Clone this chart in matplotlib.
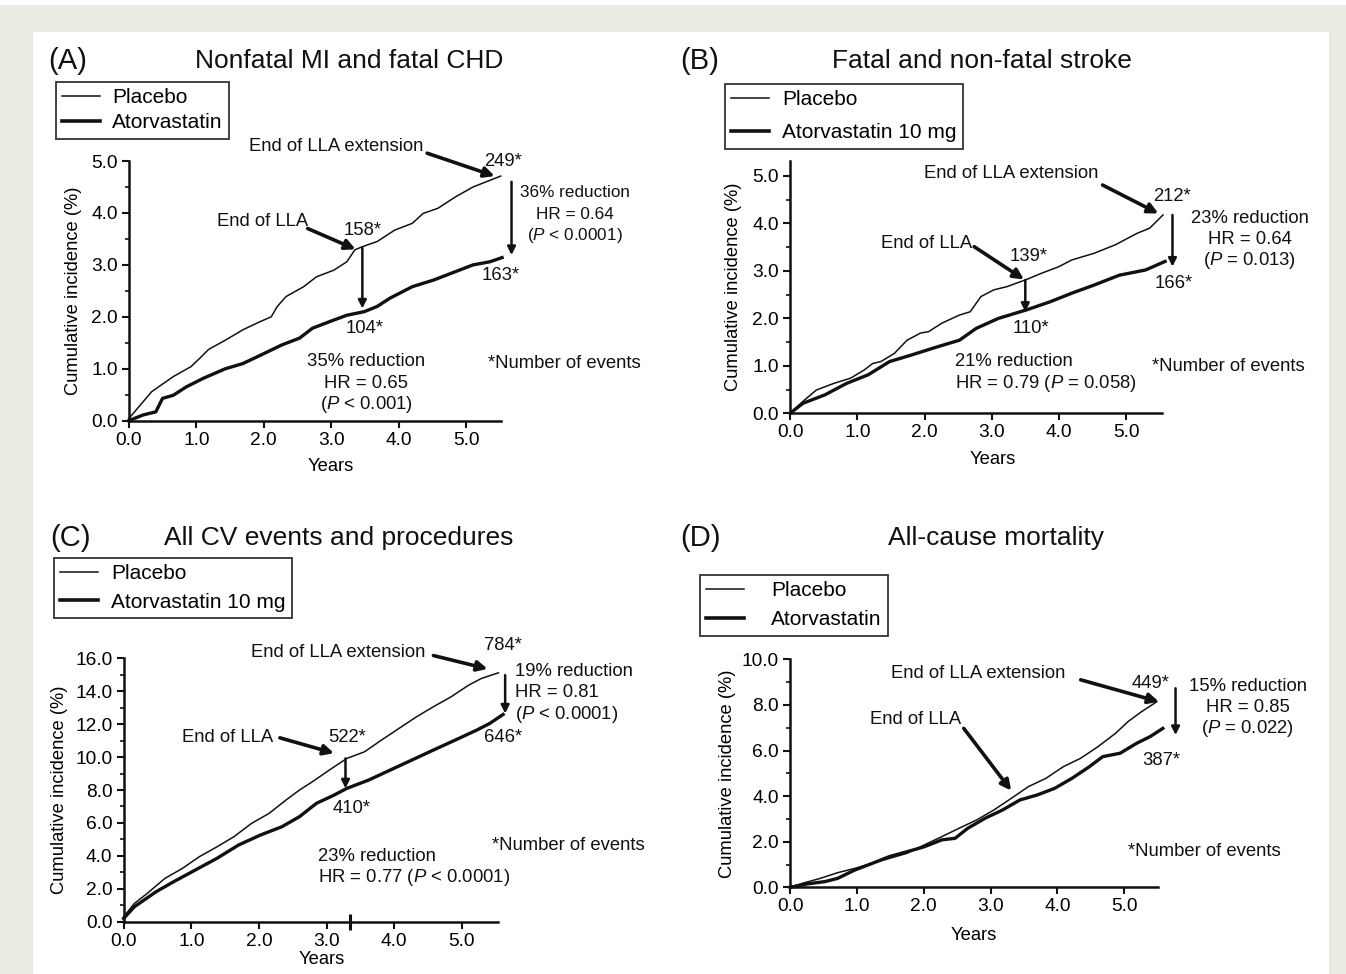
import matplotlib
matplotlib.use('Agg')
import matplotlib.pyplot as plt
from matplotlib.patches import Rectangle
from matplotlib.lines import Line2D
from matplotlib.ticker import MultipleLocator

plt.rcParams['font.family'] = ['Liberation Sans', 'DejaVu Sans']
plt.rcParams['mathtext.fontset'] = 'custom'
plt.rcParams['mathtext.rm'] = 'Liberation Sans'
plt.rcParams['mathtext.it'] = 'Liberation Sans:italic'

# ---------------- data (years, cumulative incidence %) ----------------
a_plac_t = [0.0, 0.34, 0.66, 0.92, 1.05, 1.18, 1.43, 1.69, 1.95, 2.11, 2.2, 2.33, 2.59, 2.78, 3.04, 3.23,
            3.35, 3.46, 3.68, 3.94, 4.2, 4.36, 4.58, 4.84, 5.1, 5.51]
a_plac_y = [0.04, 0.56, 0.85, 1.04, 1.2, 1.37, 1.55, 1.75, 1.91, 2.0, 2.2, 2.39, 2.58, 2.77, 2.9, 3.06,
            3.29, 3.35, 3.45, 3.67, 3.8, 3.99, 4.09, 4.31, 4.5, 4.71]
a_ator_t = [0.0, 0.21, 0.4, 0.5, 0.66, 0.85, 1.11, 1.43, 1.69, 1.95, 2.27, 2.53, 2.72, 2.98, 3.23, 3.49,
            3.68, 3.87, 4.2, 4.52, 4.84, 5.1, 5.35, 5.53]
a_ator_y = [0.0, 0.11, 0.17, 0.43, 0.49, 0.65, 0.82, 1.0, 1.1, 1.26, 1.46, 1.59, 1.78, 1.91, 2.03, 2.1,
            2.2, 2.36, 2.58, 2.71, 2.87, 3.0, 3.06, 3.14]

b_plac_t = [0.0, 0.19, 0.39, 0.65, 0.9, 1.1, 1.23, 1.35, 1.55, 1.74, 1.94, 2.06, 2.26, 2.52, 2.68, 2.84,
            3.03, 3.23, 3.52, 3.74, 4.0, 4.19, 4.52, 4.84, 5.16, 5.35, 5.55]
b_plac_y = [0.0, 0.25, 0.49, 0.63, 0.74, 0.91, 1.05, 1.09, 1.26, 1.54, 1.69, 1.72, 1.9, 2.07, 2.14, 2.46,
            2.6, 2.67, 2.82, 2.95, 3.09, 3.23, 3.37, 3.55, 3.79, 3.9, 4.18]
b_ator_t = [0.0, 0.19, 0.52, 0.84, 1.16, 1.48, 1.81, 2.19, 2.52, 2.77, 3.1, 3.52, 3.87, 4.19, 4.52, 4.9,
            5.29, 5.58]
b_ator_y = [0.0, 0.21, 0.39, 0.63, 0.81, 1.09, 1.23, 1.4, 1.54, 1.79, 2.0, 2.18, 2.35, 2.53, 2.7, 2.91,
            3.02, 3.2]

c_plac_t = [0.0, 0.16, 0.35, 0.61, 0.87, 1.12, 1.38, 1.63, 1.89, 2.15, 2.4, 2.6, 2.79, 3.04, 3.3, 3.56,
            3.81, 4.07, 4.33, 4.58, 4.84, 5.1, 5.29, 5.54]
c_plac_y = [0.3, 1.11, 1.72, 2.63, 3.24, 3.95, 4.55, 5.16, 5.97, 6.58, 7.39, 8.0, 8.5, 9.21, 9.92, 10.32,
            11.03, 11.74, 12.45, 13.06, 13.66, 14.37, 14.78, 15.12]
c_ator_t = [0.0, 0.16, 0.48, 0.74, 1.06, 1.38, 1.7, 2.02, 2.34, 2.6, 2.85, 3.11, 3.3, 3.62, 3.94, 4.26,
            4.58, 4.9, 5.22, 5.41, 5.61]
c_ator_y = [0.2, 0.91, 1.82, 2.43, 3.14, 3.85, 4.66, 5.26, 5.77, 6.38, 7.19, 7.69, 8.1, 8.6, 9.21, 9.82,
            10.43, 11.03, 11.64, 12.04, 12.59]
c_marker_year = [3.35]

d_plac_t = [0.0, 0.19, 0.45, 0.71, 0.97, 1.23, 1.49, 1.75, 2.01, 2.27, 2.53, 2.79, 3.05, 3.31, 3.57, 3.83,
            4.09, 4.35, 4.61, 4.87, 5.06, 5.26, 5.49]
d_plac_y = [0.0, 0.18, 0.39, 0.64, 0.83, 1.05, 1.27, 1.49, 1.86, 2.22, 2.59, 2.95, 3.39, 3.9, 4.42, 4.78,
            5.29, 5.66, 6.17, 6.75, 7.27, 7.7, 8.14]
d_ator_t = [0.0, 0.26, 0.52, 0.71, 0.97, 1.23, 1.49, 1.75, 2.01, 2.27, 2.47, 2.66, 2.92, 3.18, 3.44, 3.7,
            3.96, 4.22, 4.48, 4.68, 4.94, 5.19, 5.39, 5.58]
d_ator_y = [0.0, 0.15, 0.25, 0.39, 0.76, 1.05, 1.35, 1.56, 1.78, 2.08, 2.15, 2.59, 3.03, 3.39, 3.83, 4.05,
            4.34, 4.78, 5.29, 5.73, 5.88, 6.32, 6.61, 6.97]

x_ticks = [0, 1, 2, 3, 4, 5]
x_tick_labels = ['0.0', '1.0', '2.0', '3.0', '4.0', '5.0']
ab_y_ticks = [0, 1, 2, 3, 4, 5]
ab_y_tick_labels = ['0.0', '1.0', '2.0', '3.0', '4.0', '5.0']
c_y_ticks = [0, 2, 4, 6, 8, 10, 12, 14, 16]
c_y_tick_labels = ['0.0', '2.0', '4.0', '6.0', '8.0', '10.0', '12.0', '14.0', '16.0']
d_y_ticks = [0, 2, 4, 6, 8, 10]
d_y_tick_labels = ['0.0', '2.0', '4.0', '6.0', '8.0', '10.0']

# ---------------- figure ----------------
W, H = 1346, 974
fig = plt.figure(figsize=(W / 100, H / 100), dpi=100)
fig.patch.set_facecolor('#ecebe3')
fig.add_artist(Rectangle((33 / W, 0), (1329 - 33) / W, (H - 32) / H, transform=fig.transFigure,
                         facecolor='white', edgecolor='none', zorder=-10))
fig.add_artist(Rectangle((0, (H - 5) / H), 1, 5 / H, transform=fig.transFigure,
                         facecolor='white', edgecolor='none', zorder=-10))

INK = '#111111'


def make_axes(x0, y0, pxx, pxy, xmax, ymax, yticks, ylabels, yminor):
    ax = fig.add_axes([x0 / W, (H - y0) / H, xmax * pxx / W, ymax * pxy / H])
    ax.set_facecolor('none')
    ax.set_xlim(0, xmax)
    ax.set_ylim(0, ymax)
    for s in ('top', 'right'):
        ax.spines[s].set_visible(False)
    for s in ('left', 'bottom'):
        ax.spines[s].set_linewidth(1.8)
        ax.spines[s].set_color(INK)
    ax.set_xticks(x_ticks)
    ax.set_xticklabels(x_tick_labels)
    ax.set_yticks(yticks)
    ax.set_yticklabels(ylabels)
    ax.yaxis.set_minor_locator(MultipleLocator(yminor))
    ax.tick_params(axis='both', which='major', length=5, width=1.5, labelsize=13.8, pad=3, color=INK)
    ax.tick_params(axis='y', which='minor', length=3, width=1.2, color=INK)
    return ax


def curves(ax, pt, py, at, ay):
    ax.plot(pt, py, color=INK, lw=1.1, clip_on=False, zorder=3)
    ax.plot(at, ay, color=INK, lw=2.4, clip_on=False, zorder=3)


def labels(ax, ylab_x, xlab_y, x0, y0, pxx, pxy, xmax, ymax, xlab_x):
    wpx = xmax * pxx
    hpx = ymax * pxy
    ax.set_ylabel('Cumulative incidence (%)', fontsize=13.2, va='center')
    ax.yaxis.set_label_coords((ylab_x - x0) / wpx, 0.5)
    ax.set_xlabel('Years', fontsize=13.2, va='center')
    ax.xaxis.set_label_coords((xlab_x - x0) / wpx, (y0 - xlab_y) / hpx)


def txt(ax, x, y, s, ha='center', fs=13.3):
    ax.text(x, y, s, ha=ha, va='center', fontsize=fs, clip_on=False, color=INK)


def arrow(ax, x1, y1, x2, y2, lw=2.6, ms=15):
    ax.annotate('', xy=(x2, y2), xytext=(x1, y1), annotation_clip=False,
                arrowprops=dict(arrowstyle='-|>', color=INK, lw=lw, mutation_scale=ms,
                                shrinkA=0, shrinkB=0))


def legend(x, y, labs, ls, htp, bp=0.3):
    hs = [Line2D([], [], color=INK, lw=1.1), Line2D([], [], color=INK, lw=2.6)]
    lg = fig.legend(hs, labs, loc='upper left', bbox_to_anchor=(x / W, 1 - y / H), frameon=True,
                    fancybox=False, edgecolor='black', fontsize=15, handlelength=1.8,
                    handletextpad=htp, borderpad=bp, labelspacing=ls, borderaxespad=0)
    lg.get_frame().set_linewidth(1.3)
    return lg


def head(xl, yl, lab, xt, title):
    fig.text(xl / W, 1 - yl / H, lab, ha='center', va='center', fontsize=21, color=INK)
    fig.text(xt / W, 1 - yl / H, title, ha='center', va='center', fontsize=19, color=INK)


P = r'$\mathit{P}$'

# ---------------- Panel A ----------------
pA = dict(x0=128.8, y0=420.7, pxx=67.5, pxy=51.94, xmax=5.52, ymax=5.0)
axA = make_axes(pA['x0'], pA['y0'], pA['pxx'], pA['pxy'], pA['xmax'], pA['ymax'],
                ab_y_ticks, ab_y_tick_labels, 0.5)
curves(axA, a_plac_t, a_plac_y, a_ator_t, a_ator_y)
labels(axA, 73.5, 466, pA['x0'], pA['y0'], pA['pxx'], pA['pxy'], pA['xmax'], pA['ymax'], 331)
head(68, 61, '(A)', 349, 'Nonfatal MI and fatal CHD')
legend(56, 82, ['Placebo', 'Atorvastatin'], 0.3, 0.6)
txt(axA, 3.07, 5.28, 'End of LLA extension')
arrow(axA, 4.42, 5.15, 5.42, 4.71)
txt(axA, 5.55, 4.99, '249*')
txt(axA, 6.61, 4.39, '36% reduction', fs=12.3)
txt(axA, 6.61, 3.97, 'HR = 0.64', fs=12.3)
txt(axA, 6.61, 3.56, '(' + P + ' < 0.0001)', fs=12.3)
arrow(axA, 5.67, 4.6, 5.67, 3.19, lw=1.8, ms=12)
txt(axA, 5.51, 2.8, '163*')
txt(axA, 1.98, 3.83, 'End of LLA')
arrow(axA, 2.65, 3.7, 3.36, 3.3)
txt(axA, 3.46, 3.67, '158*')
arrow(axA, 3.46, 3.33, 3.46, 2.16, lw=1.8, ms=12)
txt(axA, 3.49, 1.78, '104*')
txt(axA, 3.52, 1.14, '35% reduction')
txt(axA, 3.52, 0.72, 'HR = 0.65')
txt(axA, 3.52, 0.31, '(' + P + ' < 0.001)')
txt(axA, 6.45, 1.1, '*Number of events')

# ---------------- Panel B ----------------
pB = dict(x0=790.1, y0=413.3, pxx=67.2, pxy=47.46, xmax=5.54, ymax=5.32)
axB = make_axes(pB['x0'], pB['y0'], pB['pxx'], pB['pxy'], pB['xmax'], pB['ymax'],
                ab_y_ticks, ab_y_tick_labels, 0.5)
curves(axB, b_plac_t, b_plac_y, b_ator_t, b_ator_y)
labels(axB, 734, 459, pB['x0'], pB['y0'], pB['pxx'], pB['pxy'], pB['xmax'], pB['ymax'], 993)
head(700, 61, '(B)', 982, 'Fatal and non-fatal stroke')
legend(725, 84, ['Placebo', 'Atorvastatin 10 mg'], 0.68, 0.65)
txt(axB, 3.29, 5.05, 'End of LLA extension')
arrow(axB, 4.65, 4.81, 5.48, 4.21)
txt(axB, 5.68, 4.56, '212*')
txt(axB, 6.84, 4.11, '23% reduction')
txt(axB, 6.84, 3.67, 'HR = 0.64')
txt(axB, 6.84, 3.23, '(' + P + ' = 0.013)')
arrow(axB, 5.69, 4.18, 5.69, 3.09, lw=1.8, ms=12)
txt(axB, 5.71, 2.74, '166*')
txt(axB, 2.03, 3.58, 'End of LLA')
arrow(axB, 2.74, 3.51, 3.48, 2.82)
txt(axB, 3.55, 3.3, '139*')
arrow(axB, 3.5, 2.81, 3.5, 2.14, lw=1.8, ms=12)
txt(axB, 3.58, 1.79, '110*')
txt(axB, 2.45, 1.09, '21% reduction', ha='left')
txt(axB, 2.45, 0.63, 'HR = 0.79 (' + P + ' = 0.058)', ha='left')
txt(axB, 6.52, 0.98, '*Number of events')

# ---------------- Panel C ----------------
pC = dict(x0=123.6, y0=921.7, pxx=67.65, pxy=16.46, xmax=5.53, ymax=16.0)
axC = make_axes(pC['x0'], pC['y0'], pC['pxx'], pC['pxy'], pC['xmax'], pC['ymax'],
                c_y_ticks, c_y_tick_labels, 1.0)
curves(axC, c_plac_t, c_plac_y, c_ator_t, c_ator_y)
axC.plot(c_marker_year, [0] * len(c_marker_year), marker='|', ms=11, mew=2.2, color=INK,
         clip_on=False, zorder=4)
labels(axC, 60, 960, pC['x0'], pC['y0'], pC['pxx'], pC['pxy'], pC['xmax'], pC['ymax'], 322)
head(70, 538, '(C)', 339, 'All CV events and procedures')
legend(54, 558, ['Placebo', 'Atorvastatin 10 mg'], 0.45, 0.65)
txt(axC, 3.17, 16.33, 'End of LLA extension')
arrow(axC, 4.58, 16.17, 5.38, 15.36)
txt(axC, 5.61, 16.8, '784*')
txt(axC, 5.79, 15.18, '19% reduction', ha='left')
txt(axC, 5.79, 13.93, 'HR = 0.81', ha='left')
txt(axC, 5.79, 12.59, '(' + P + ' < 0.0001)', ha='left')
arrow(axC, 5.64, 14.98, 5.64, 12.65, lw=1.8, ms=12)
txt(axC, 5.61, 11.17, '646*')
txt(axC, 1.54, 11.2, 'End of LLA')
arrow(axC, 2.31, 11.17, 3.11, 10.24)
txt(axC, 3.3, 11.2, '522*')
arrow(axC, 3.28, 9.92, 3.28, 8.1, lw=1.8, ms=12)
txt(axC, 3.37, 6.88, '410*')
txt(axC, 2.88, 3.99, '23% reduction', ha='left')
txt(axC, 2.88, 2.67, 'HR = 0.77 (' + P + ' < 0.0001)', ha='left')
txt(axC, 6.57, 4.62, '*Number of events')

# ---------------- Panel D ----------------
pD = dict(x0=790.1, y0=887.3, pxx=66.8, pxy=22.8, xmax=5.51, ymax=10.0)
axD = make_axes(pD['x0'], pD['y0'], pD['pxx'], pD['pxy'], pD['xmax'], pD['ymax'],
                d_y_ticks, d_y_tick_labels, 1.0)
curves(axD, d_plac_t, d_plac_y, d_ator_t, d_ator_y)
labels(axD, 728, 935, pD['x0'], pD['y0'], pD['pxx'], pD['pxy'], pD['xmax'], pD['ymax'], 974)
head(700, 538, '(D)', 996, 'All-cause mortality')
legend(700, 575, ['Placebo', 'Atorvastatin'], 0.48, 1.3)
txt(axD, 2.82, 9.39, 'End of LLA extension')
arrow(axD, 4.35, 9.1, 5.52, 8.14)
txt(axD, 5.39, 8.92, '449*')
txt(axD, 6.85, 8.82, '15% reduction')
txt(axD, 6.85, 7.89, 'HR = 0.85')
txt(axD, 6.85, 6.97, '(' + P + ' = 0.022)')
arrow(axD, 5.77, 8.73, 5.77, 6.68, lw=1.8, ms=12)
txt(axD, 5.55, 5.58, '387*')
txt(axD, 1.88, 7.37, 'End of LLA')
arrow(axD, 2.6, 6.97, 3.31, 4.24)
txt(axD, 6.2, 1.56, '*Number of events')

fig.savefig('out.png', dpi=100, facecolor=fig.get_facecolor())
